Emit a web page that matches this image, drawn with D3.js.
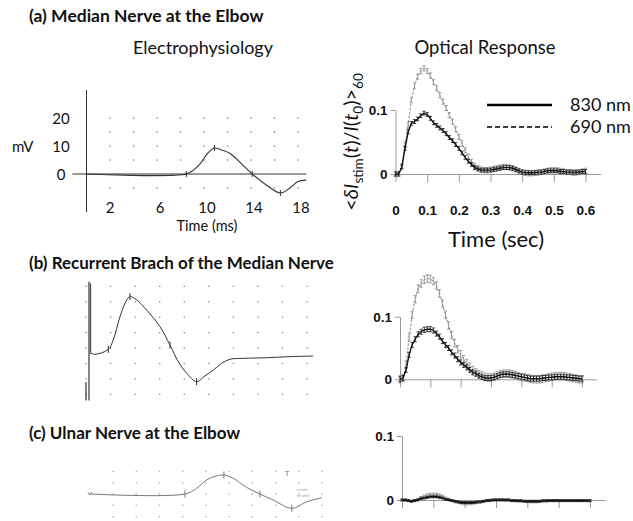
<!DOCTYPE html>
<html><head><meta charset="utf-8">
<script src="https://cdn.jsdelivr.net/npm/d3@7"></script>
<style>body{margin:0;background:#fff}svg{display:block}</style>
</head><body>
<svg id="c" width="633" height="521"></svg>
<script>
// ---------- DATA ----------
const panelTitles = ["(a) Median Nerve at the Elbow", "(b) Recurrent Brach of the Median Nerve", "(c) Ulnar Nerve at the Elbow"];
const columnTitles = ["Electrophysiology", "Optical Response"];
const legendLabels = ["830 nm", "690 nm"];
const opticalXTicks = [0, 0.1, 0.2, 0.3, 0.4, 0.5, 0.6];
const opticalYTicks = [0, 0.1];
const ephysAXTicks = [2, 6, 10, 14, 18];
const ephysAYTicks = [0, 10, 20];

const tSec = [0,0.01,0.02,0.03,0.04,0.05,0.06,0.07,0.08,0.09,0.10,0.11,0.12,0.13,0.14,0.15,0.16,0.17,0.18,0.19,0.20,
  0.21,0.22,0.23,0.24,0.25,0.26,0.27,0.28,0.29,0.30,0.31,0.32,0.33,0.34,0.35,0.36,0.37,0.38,0.39,0.40,
  0.41,0.42,0.43,0.44,0.45,0.46,0.47,0.48,0.49,0.50,0.51,0.52,0.53,0.54,0.55,0.56,0.57,0.58,0.59,0.60];

const a830 = [0,0,0.011,0.040,0.066,0.079,0.082,0.086,0.091,0.095,0.093,0.087,0.080,0.076,0.072,0.068,0.063,0.057,0.052,0.046,0.040,
  0.033,0.026,0.020,0.015,0.010,0.008,0.006,0.006,0.006,0.006,0.007,0.008,0.009,0.010,0.010,0.010,0.009,0.007,0.005,0.003,
  0.002,0.002,0.002,0.002,0.003,0.003,0.004,0.005,0.005,0.005,0.005,0.004,0.004,0.003,0.003,0.003,0.003,0.003,0.004,0.004];
const a690 = [0,0,0.012,0.045,0.077,0.115,0.138,0.152,0.161,0.165,0.161,0.154,0.144,0.134,0.123,0.113,0.103,0.092,0.082,0.070,0.058,
  0.048,0.037,0.027,0.019,0.013,0.009,0.007,0.006,0.006,0.007,0.008,0.009,0.010,0.011,0.011,0.010,0.009,0.007,0.005,0.003,
  0.002,0.001,0.001,0.002,0.002,0.003,0.004,0.005,0.006,0.006,0.006,0.005,0.004,0.003,0.003,0.002,0.002,0.003,0.004,0.005];
const b830 = [0,0.002,0.015,0.039,0.055,0.064,0.072,0.076,0.079,0.080,0.080,0.078,0.073,0.068,0.061,0.055,0.050,0.043,0.038,0.032,0.027,
  0.023,0.019,0.015,0.011,0.009,0.006,0.004,0.002,0.002,0.002,0.003,0.005,0.007,0.008,0.008,0.008,0.007,0.006,0.005,0.004,
  0.003,0.002,0.001,0.001,0.001,0.001,0.002,0.002,0.003,0.003,0.004,0.004,0.004,0.004,0.003,0.003,0.002,0.002,0.001,0.001];
const b690 = [0,0.002,0.023,0.067,0.103,0.128,0.145,0.153,0.159,0.161,0.160,0.157,0.150,0.137,0.121,0.103,0.086,0.071,0.058,0.048,0.040,
  0.032,0.026,0.020,0.015,0.011,0.008,0.006,0.004,0.003,0.003,0.004,0.006,0.008,0.009,0.009,0.009,0.008,0.007,0.005,0.004,
  0.003,0.002,0.001,0.000,0.000,0.000,0.001,0.002,0.003,0.004,0.005,0.005,0.005,0.005,0.004,0.003,0.002,0.001,0.000,0.000];
const c830 = [0,0,-0.001,-0.002,-0.001,0.000,0.002,0.003,0.004,0.005,0.005,0.005,0.004,0.003,0.001,0.000,-0.001,-0.002,-0.003,-0.004,-0.004,
  -0.004,-0.004,-0.004,-0.003,-0.003,-0.002,-0.001,-0.001,0.000,0.000,0.000,0.000,0.000,0.000,-0.001,-0.001,-0.001,-0.001,-0.002,-0.002,
  -0.002,-0.002,-0.002,-0.002,-0.001,-0.001,-0.001,-0.001,-0.001,-0.001,-0.001,-0.001,-0.001,-0.001,-0.001,-0.001,-0.001,-0.001,-0.001,-0.001];
const c690 = [0,0,-0.001,-0.002,-0.001,0.001,0.004,0.006,0.008,0.009,0.009,0.009,0.008,0.006,0.003,0.001,-0.001,-0.003,-0.004,-0.005,-0.006,
  -0.006,-0.006,-0.005,-0.004,-0.003,-0.002,-0.001,0.000,0.000,0.001,0.001,0.001,0.000,0.000,-0.001,-0.001,-0.002,-0.002,-0.002,-0.003,
  -0.003,-0.003,-0.003,-0.002,-0.002,-0.002,-0.001,-0.001,-0.001,-0.001,-0.001,-0.001,-0.001,-0.001,-0.001,-0.001,-0.001,-0.001,-0.001,-0.001];
const err830 = [0.003, 0.004, 0.0015];   // error-bar half widths per panel
const err690 = [0.004, 0.006, 0.0015];

const ephysA_ms = [0, 8.5, 9.1, 9.7, 10.2, 10.6, 10.9, 11.5, 12.2, 13.3, 14.1, 15.3, 16.5, 17.3, 18.0, 18.7];
const ephysA_mV = [0, 0, 1.4, 3.8, 6.8, 8.6, 9.3, 8.6, 7.4, 3.2, 0, -3.9, -6.8, -5.0, -2.7, -2.2];
const ephysA_marks = [0, 8.5, 10.9, 14.1, 16.5];

const ephysB_t = [0.38, 0.73, 1.82, 2.22, 2.77, 3.18, 3.58, 4.13, 4.94, 6.03, 6.84, 7.52, 8.2, 9.01, 9.69, 10.37, 11.05, 11.73, 12.81, 14.71, 16.61, 18.51];
const ephysB_v = [-0.35, -0.41, -0.09, 0.52, 2.03, 2.9, 3.33, 3.11, 2.46, 1.38, 0.19, -0.89, -1.64, -2.18, -1.81, -1.43, -0.99, -0.73, -0.67, -0.63, -0.56, -0.52];
const ephysB_spikeTop = 4.19;
const ephysB_marks = [1.82, 3.58, 6.84, 9.01];

const ephysC_t = [0, 8.2, 9.2, 10.07, 10.9, 11.55, 12.35, 13.5, 14.65, 15.8, 17.4, 18.7, 20];
const ephysC_v = [0, 0, 0.5, 1.24, 1.6, 1.68, 1.39, 0.59, 0, -0.53, -1.27, -0.68, -0.33];
const ephysC_marks = [8.2, 11.55, 14.65, 17.4];

// ---------- DRAW ----------
const svg = d3.select("#c");
const SANS = "Lato, 'Open Sans', sans-serif";
const ARIAL = "'Liberation Sans', Arial, sans-serif";

function txt(x, y, s, o = {}) {
  return svg.append("text").attr("x", x).attr("y", y).text(s)
    .attr("font-family", o.family || SANS).attr("font-size", o.size || 15)
    .attr("font-weight", o.weight || "normal").attr("text-anchor", o.anchor || "start")
    .attr("fill", o.fill || "#111");
}

// titles
txt(29, 22, panelTitles[0], {size: 17.5, weight: "bold"});
txt(29, 269, panelTitles[1], {size: 17, weight: "bold"});
txt(29, 439, panelTitles[2], {size: 17, weight: "bold"});
txt(203, 54, columnTitles[0], {size: 18, anchor: "middle"});
txt(485, 54, columnTitles[1], {size: 18.5, anchor: "middle"});

function dots(g, xs, ys, x, y, col) {
  xs.forEach(a => ys.forEach(b => {
    g.append("rect").attr("x", x(a) - 0.6).attr("y", y(b) - 0.6).attr("width", 1.3).attr("height", 1.3).attr("fill", col);
  }));
}
function marks(g, ts, x, y, fx, col, h) {
  ts.forEach(t => {
    g.append("line").attr("x1", x(t)).attr("x2", x(t)).attr("y1", y(fx(t)) - h).attr("y2", y(fx(t)) + h)
      .attr("stroke", col).attr("stroke-width", 1);
  });
}
function lookup(ts, vs) { return t => vs[ts.indexOf(t)]; }

// ----- Panel A ephys -----
{
  const g = svg.append("g");
  const x = d3.scaleLinear().domain([0, 18]).range([86.5, 298]);
  const y = d3.scaleLinear().domain([0, 20]).range([174, 118]);
  dots(g, d3.range(2, 19, 2), [-5, 5, 10, 15, 20], x, y, "#777");
  g.append("line").attr("x1", x(0)).attr("x2", x(0)).attr("y1", y(30)).attr("y2", y(-13.6)).attr("stroke", "#333");
  g.append("line").attr("x1", x(-1.2)).attr("x2", x(18.7)).attr("y1", y(0)).attr("y2", y(0)).attr("stroke", "#333");
  ephysAYTicks.forEach(v => txt(61, y(v) + 5.5, String(v), {anchor: "middle"}));
  ephysAXTicks.forEach(v => txt(x(v) + (v < 4 ? 0 : 3), 213, String(v), {anchor: "middle"}));
  txt(12, 152, "mV");
  txt(207, 231, "Time (ms)", {anchor: "middle", size: 14.5});
  g.append("path").datum(ephysA_ms.map((t, i) => [t, ephysA_mV[i]]))
    .attr("d", d3.line().x(d => x(d[0])).y(d => y(d[1])).curve(d3.curveCatmullRom))
    .attr("fill", "none").attr("stroke", "#333").attr("stroke-width", 1.1);
  marks(g, ephysA_marks, x, y, lookup(ephysA_ms, ephysA_mV), "#333", 3);
}

// ----- Panel B ephys -----
{
  const g = svg.append("g");
  const x = d3.scaleLinear().domain([0, 18]).range([86, 307]);
  const y = d3.scaleLinear().domain([0, 4]).range([348, 286.3]);
  dots(g, d3.range(0, 19, 2), d3.range(-3, 5, 1), x, y, "#888");
  g.append("line").attr("x1", x(0) + 3).attr("x2", x(0) + 3).attr("y1", y(4.3)).attr("y2", y(-3.4)).attr("stroke", "#333").attr("stroke-width", 1.2);
  g.append("line").attr("x1", x(0)).attr("x2", x(0)).attr("y1", y(-2.2)).attr("y2", y(-3.4)).attr("stroke", "#333").attr("stroke-width", 1.2);
  g.append("path").datum([[ephysB_t[0], ephysB_spikeTop], [ephysB_t[0], ephysB_v[0]]])
    .attr("d", d3.line().x(d => x(d[0])).y(d => y(d[1])))
    .attr("fill", "none").attr("stroke", "#333").attr("stroke-width", 1);
  g.append("path").datum(ephysB_t.map((t, i) => [t, ephysB_v[i]]))
    .attr("d", d3.line().x(d => x(d[0])).y(d => y(d[1])).curve(d3.curveCatmullRom))
    .attr("fill", "none").attr("stroke", "#333").attr("stroke-width", 1);
  marks(g, ephysB_marks, x, y, lookup(ephysB_t, ephysB_v), "#333", 3.5);
}

// ----- Panel C ephys -----
{
  const g = svg.append("g");
  const x = d3.scaleLinear().domain([0, 20]).range([89.8, 322]);
  const y = d3.scaleLinear().domain([0, 2]).range([494, 471.4]);
  dots(g, d3.range(2, 21, 2), [-2, -1, 0, 1, 2], x, y, "#aaa");
  g.append("path").datum(ephysC_t.map((t, i) => [t, ephysC_v[i]]))
    .attr("d", d3.line().x(d => x(d[0])).y(d => y(d[1])).curve(d3.curveCatmullRom))
    .attr("fill", "none").attr("stroke", "#777").attr("stroke-width", 1);
  marks(g, ephysC_marks, x, y, lookup(ephysC_t, ephysC_v), "#777", 3.5);
  g.append("path").attr("d", `M${x(0) - 2},${y(0) - 2}L${x(0)},${y(0) + 1}L${x(0) + 2},${y(0) - 2}`).attr("fill", "none").attr("stroke", "#888");
  g.append("path").attr("d", `M${x(17) - 2},${y(2)}H${x(17) + 2}M${x(17)},${y(2)}V${y(1.6)}`).attr("fill", "none").attr("stroke", "#999");
  g.append("text").attr("x", x(17.8)).attr("y", y(0.3)).text("ref mkr").attr("font-size", 3.5).attr("fill", "#999").attr("font-family", SANS);
  g.append("text").attr("x", x(17.8)).attr("y", y(-0.3)).text("ref mkr2").attr("font-size", 3.5).attr("fill", "#999").attr("font-family", SANS);
}

// ----- Optical panels -----
const opticalCfg = [
  {x0: 395.5, x6: 585.5, y0: 174, y1: 110, s830: a830, s690: a690, labels: true},
  {x0: 400, x6: 582, y0: 379.3, y1: 316.7, s830: b830, s690: b690, labels: false},
  {x0: 402, x6: 590, y0: 500, y1: 436, s830: c830, s690: c690, labels: false}
];
opticalCfg.forEach((c, pi) => {
  const g = svg.append("g");
  const x = d3.scaleLinear().domain([0, 0.6]).range([c.x0, c.x6]);
  const y = d3.scaleLinear().domain([0, 0.1]).range([c.y0, c.y1]);
  const xAx = d3.scaleLinear().domain([0, 0.648]).range([c.x0, x(0.648)]);
  const ax = g.append("g").attr("transform", `translate(0,${c.y0})`)
    .call(d3.axisBottom(xAx).tickValues(opticalXTicks).tickSize(8).tickSizeOuter(0).tickPadding(23)
      .tickFormat(c.labels ? d3.format("") : () => ""));
  ax.select(".domain").attr("stroke", "#999");
  ax.selectAll(".tick line").attr("stroke", "#999");
  ax.selectAll("text").attr("font-family", ARIAL).attr("font-weight", "bold").attr("font-size", 13.5).attr("fill", "#111");
  const ay = g.append("g").attr("transform", `translate(${c.x0},0)`)
    .call(d3.axisLeft(y).tickValues(opticalYTicks).tickSize(5).tickSizeOuter(0).tickPadding(3).tickFormat(d3.format("")));
  ay.select(".domain").attr("stroke", "#999");
  ay.selectAll(".tick line").attr("stroke", "#999");
  ay.selectAll("text").attr("font-family", ARIAL).attr("font-weight", "bold").attr("font-size", 13.5).attr("fill", "#111");

  const line = d3.line().x((d, i) => x(tSec[i])).y(d => y(d));
  function series(vals, col, w, dash, e) {
    g.append("path").datum(vals).attr("d", line).attr("fill", "none").attr("stroke", col)
      .attr("stroke-width", w).attr("stroke-dasharray", dash);
    const eb = g.append("g").attr("stroke", col).attr("stroke-width", 0.8);
    vals.forEach((v, i) => {
      const xx = x(tSec[i]);
      eb.append("line").attr("x1", xx).attr("x2", xx).attr("y1", y(v - e)).attr("y2", y(v + e));
      eb.append("line").attr("x1", xx - 1.6).attr("x2", xx + 1.6).attr("y1", y(v + e)).attr("y2", y(v + e));
      eb.append("line").attr("x1", xx - 1.6).attr("x2", xx + 1.6).attr("y1", y(v - e)).attr("y2", y(v - e));
    });
  }
  series(c.s690, "#8a8a8a", 1, "2.5,1.5", err690[pi]);
  series(c.s830, "#111", 1.4, null, err830[pi]);
});

// optical axis titles & legend (panel a)
txt(496, 247, "Time (sec)", {size: 22, anchor: "middle"});
{
  const t = svg.append("text").attr("transform", "translate(358,142) rotate(-90)").attr("text-anchor", "middle")
    .attr("font-family", SANS).attr("font-size", 20).attr("fill", "#111");
  const spec = [
    {s: "<"}, {s: "δI", it: 1}, {s: "stim", sub: 1}, {s: "(", up: 1}, {s: "t", it: 1}, {s: ")/"},
    {s: "I", it: 1}, {s: "("}, {s: "t", it: 1}, {s: "0", sub: 1}, {s: ")>", up: 1}, {s: "60", sub: 1}
  ];
  spec.forEach(p => {
    const ts = t.append("tspan").text(p.s);
    if (p.it) ts.attr("font-style", "italic");
    if (p.sub) ts.attr("font-size", 13.5).attr("dy", 5);
    if (p.up) ts.attr("dy", -5);
  });
}
svg.append("line").attr("x1", 487).attr("x2", 552).attr("y1", 105).attr("y2", 105).attr("stroke", "#000").attr("stroke-width", 2.5);
svg.append("line").attr("x1", 487).attr("x2", 552).attr("y1", 127).attr("y2", 127).attr("stroke", "#000").attr("stroke-width", 1.3).attr("stroke-dasharray", "5,3");
txt(570, 111, legendLabels[0], {size: 18});
txt(570, 133, legendLabels[1], {size: 18});
</script>
</body></html>
